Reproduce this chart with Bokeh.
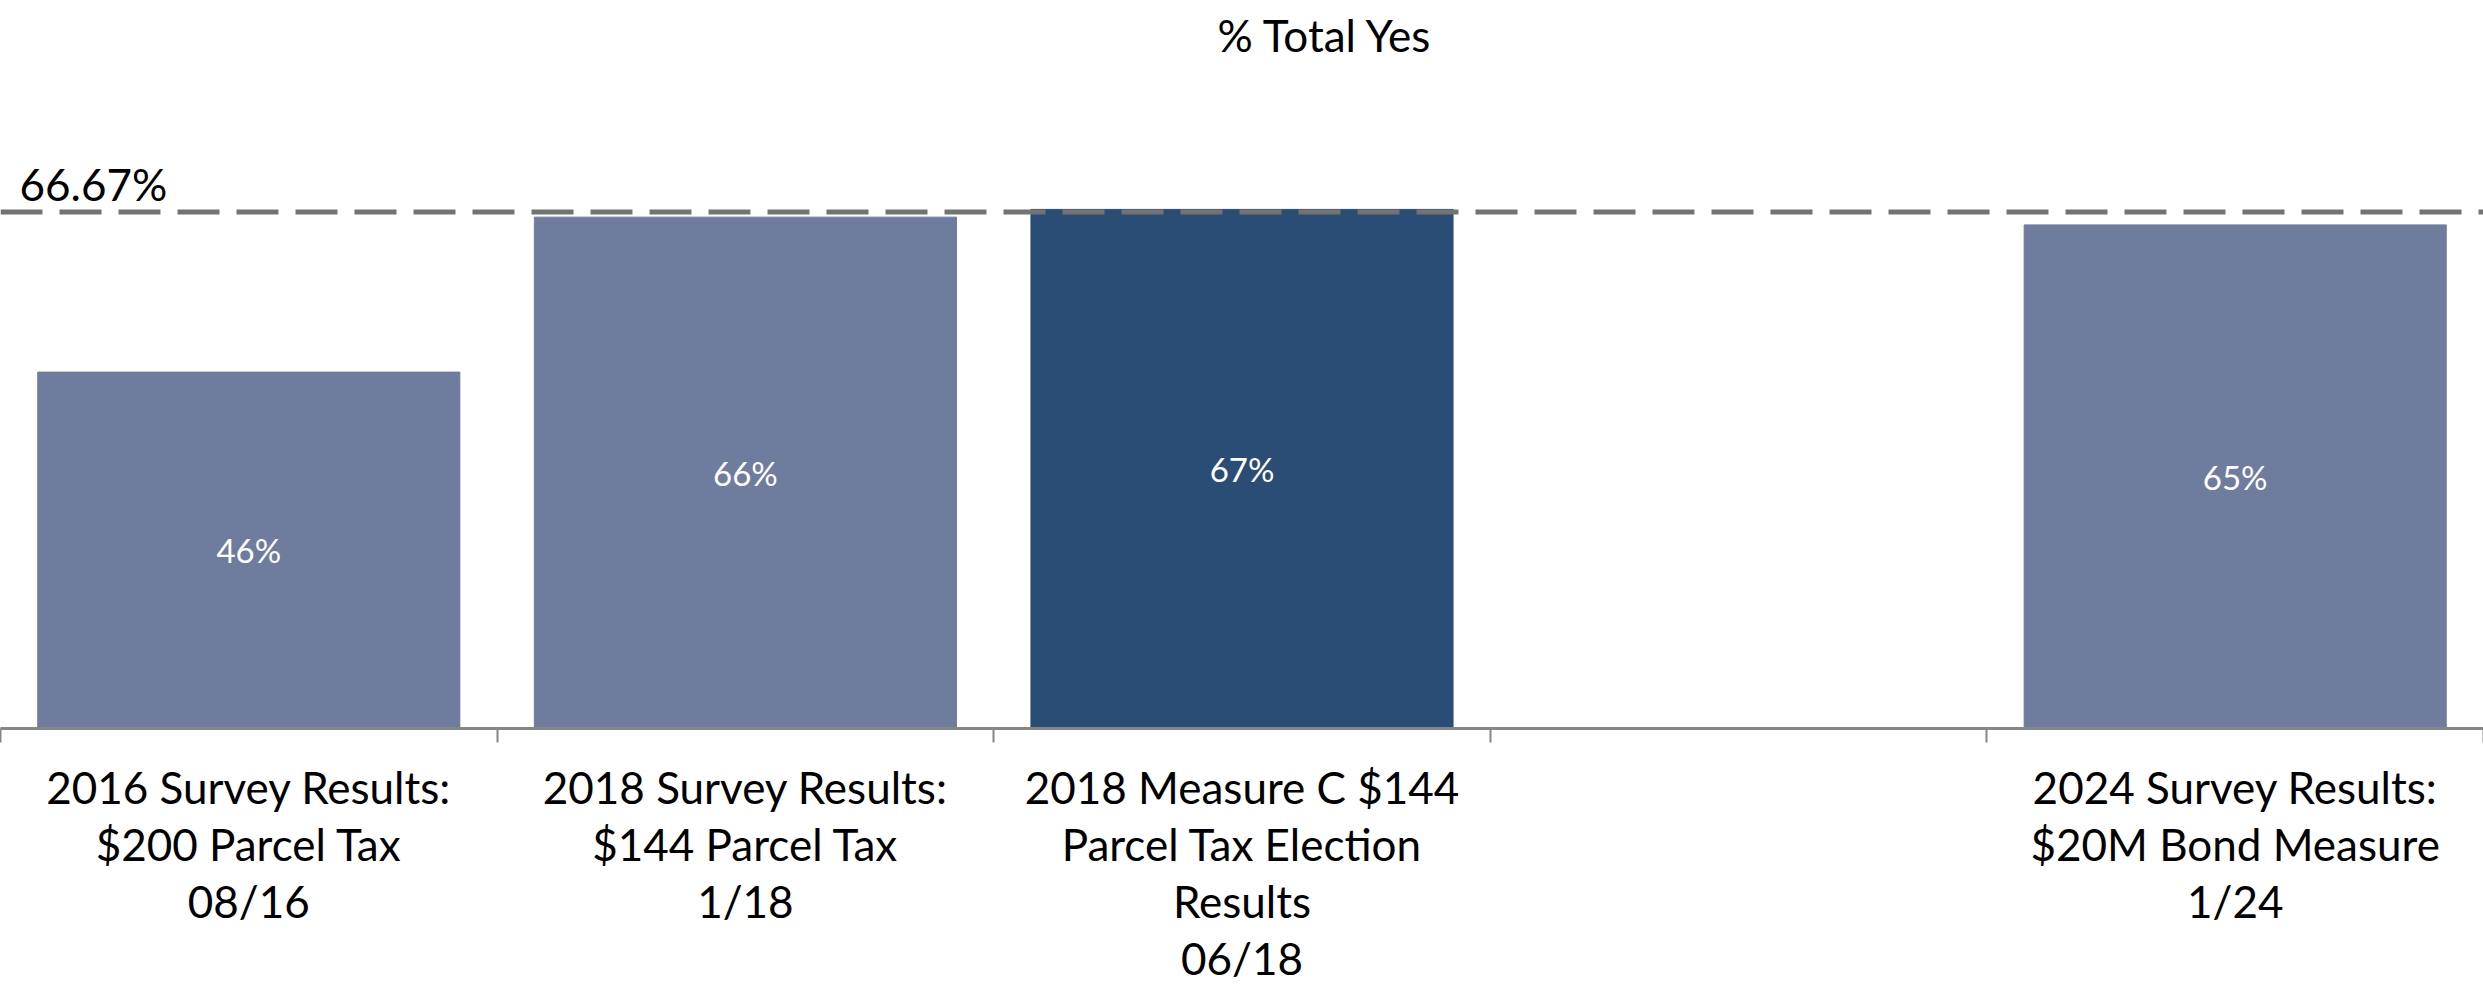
from bokeh.plotting import figure
from bokeh.models import FixedTicker, Span, Label, ColumnDataSource
from bokeh.core.properties import value
from bokeh.embed import file_html
from bokeh.resources import INLINE

# ---- data ----
categories = [
    "2016 Survey Results:\n$200 Parcel Tax\n08/16",
    "2018 Survey Results:\n$144 Parcel Tax\n1/18",
    "2018 Measure C $144\nParcel Tax Election\nResults\n06/18",
    "",
    "2024 Survey Results:\n$20M Bond Measure\n1/24",
]
yes_pct = [46, 66, 67, None, 65]
bar_labels = ["46%", "66%", "67%", "", "65%"]
highlight = [False, False, True, False, False]
threshold = 66.67
threshold_label = "66.67%"
title_text = "% Total Yes"

LIGHT = "#6E7C9E"
DARK = "#2A4D75"
FONT = "Lato"

xs, tops, cols, labs, mids = [], [], [], [], []
for i, (v, lab, h) in enumerate(zip(yes_pct, bar_labels, highlight)):
    if v is None:
        continue
    xs.append(i + 0.5)
    tops.append(v)
    cols.append(DARK if h else LIGHT)
    labs.append(lab)
    mids.append(v / 2)
src = ColumnDataSource(dict(x=xs, top=tops, color=cols, label=labs, mid=mids))

W, H = 2483, 987
p = figure(width=W, height=H, x_range=(0, len(categories)), y_range=(0, 84.8),
           output_backend="svg", toolbar_location=None,
           min_border_left=0, min_border_right=0, min_border_top=0,
           min_border_bottom=259)
p.outline_line_color = None
p.xgrid.visible = False
p.ygrid.visible = False
p.yaxis.visible = False
p.background_fill_color = "white"
p.border_fill_color = "white"

p.vbar(x="x", top="top", bottom=0, width=0.85, color="color", source=src)
p.text(x="x", y="mid", text="label", source=src, text_color="white",
       text_align="center", text_baseline="middle",
       text_font=value(FONT), text_font_size="33px")

span = Span(location=threshold, dimension="width", line_color="#737373",
            line_width=5, line_dash="42 17")
p.add_layout(span)
p.add_layout(Label(x=0, y=threshold, text=threshold_label, x_offset=19, y_offset=28,
                   text_font=FONT, text_font_size="44px", text_color="black",
                   text_baseline="alphabetic"))

centers = [i + 0.5 for i in range(len(categories))]
bounds = [float(i) for i in range(len(categories) + 1)]
ax = p.xaxis[0]
ax.ticker = FixedTicker(ticks=centers, minor_ticks=bounds)
ax.major_label_overrides = {c: lab for c, lab in zip(centers, categories)}
ax.major_tick_line_color = None
ax.major_tick_in = 0
ax.major_tick_out = 0
ax.minor_tick_in = 0
ax.minor_tick_out = 14
ax.minor_tick_line_color = "#868686"
ax.minor_tick_line_width = 2
ax.axis_line_color = "#868686"
ax.axis_line_width = 3
ax.major_label_text_font = FONT
ax.major_label_text_font_size = "44px"
ax.major_label_text_color = "black"
ax.major_label_text_line_height = 1.1
ax.major_label_standoff = 18
ax.major_label_orientation = "horizontal"

p.title.text = title_text
p.title.text_font = FONT
p.title.text_font_size = "44px"
p.title.text_font_style = "normal"
p.title.text_color = "black"
p.title.align = "left"
p.title.vertical_align = "top"
p.title.offset = 1217
if "standoff" in p.title.properties():
    p.title.standoff = 17

open("out.html", "w").write(file_html(p, INLINE))
